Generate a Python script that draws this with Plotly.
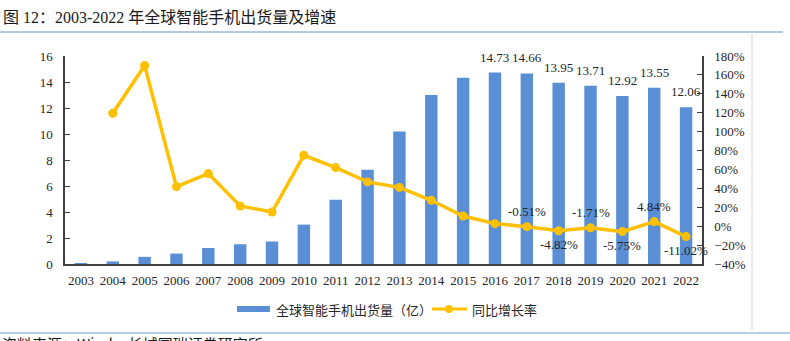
import plotly.graph_objects as go

# Global smartphone shipments (hundred million units) and year-over-year growth (%)
years = [str(y) for y in range(2003, 2023)]
shipments = [0.07, 0.2, 0.55, 0.8, 1.23, 1.52, 1.73, 3.03, 4.94, 7.25,
             10.2, 13.0, 14.33, 14.73, 14.66, 13.95, 13.71, 12.92, 13.55, 12.06]
growth = [None, 119.5, 170.0, 41.8, 55.6, 21.4, 15.0, 75.0, 62.0, 46.8,
          41.0, 27.4, 10.8, 2.7, -0.51, -4.82, -1.71, -5.75, 4.84, -11.02]

bar_label_years = years[13:]
growth_label_years = years[14:]

title_text = "图 12：2003-2022 年全球智能手机出货量及增速"
source_text = "资料来源：Wind，长城国瑞证券研究所"
bar_name = "全球智能手机出货量（亿）"
line_name = "同比增长率"

BAR_COLOR = "#5a8fd5"
LINE_COLOR = "#ffc000"
TEXT_COLOR = "#262626"
SERIF = "Liberation Serif, Times New Roman, serif"
CJK = "Noto Sans CJK SC, sans-serif"

W, H = 790, 341
L, R, T, B = 65, 88, 56, 77
plot_h = H - T - B
plot_w = W - L - R


def py(px):
    """pixel row -> paper y"""
    return (H - B - px) / plot_h


def px_(x):
    """pixel column -> paper x"""
    return (x - L) / plot_w


idx = list(range(len(years)))

fig = go.Figure()
fig.add_trace(go.Bar(x=idx, y=shipments, name=bar_name,
                     marker=dict(color=BAR_COLOR, line=dict(width=0)),
                     yaxis="y", showlegend=False))
fig.add_trace(go.Scatter(x=idx, y=growth, name=line_name, yaxis="y2",
                         mode="lines+markers",
                         line=dict(color=LINE_COLOR, width=3.5),
                         marker=dict(color=LINE_COLOR, size=9),
                         showlegend=False))

annotations = []
# value labels above the later bars
for yr in bar_label_years:
    i = years.index(yr)
    v = shipments[i]
    annotations.append(dict(x=i, y=v, xref="x", yref="y", text=f"{v:.2f}",
                            showarrow=False, yanchor="bottom", yshift=6,
                            font=dict(family=SERIF, size=13, color=TEXT_COLOR)))
# growth labels: above the line for rising/flat points, below for dips
below_years = {"2018", "2020", "2022"}
for yr in growth_label_years:
    i = years.index(yr)
    v = growth[i]
    above = yr not in below_years
    annotations.append(dict(x=i, y=v, xref="x", yref="y2", text=f"{v:.2f}%",
                            showarrow=False,
                            yanchor="bottom" if above else "top",
                            yshift=6 if above else -4,
                            font=dict(family=SERIF, size=13, color=TEXT_COLOR)))

# title and source note
annotations.append(dict(x=px_(1), y=py(17), xref="paper", yref="paper",
                        text=title_text, showarrow=False, xanchor="left",
                        yanchor="middle",
                        font=dict(family="Liberation Serif, Noto Sans CJK SC",
                                  size=16, color="#1a1a1a")))
annotations.append(dict(x=px_(0), y=py(331), xref="paper", yref="paper",
                        text=source_text, showarrow=False, xanchor="left",
                        yanchor="top",
                        font=dict(family=CJK, size=15, color="#1a1a1a")))

# legend entries drawn by hand: wide bar swatch and line-with-marker swatch
LEG_Y = 309
annotations.append(dict(x=px_(274), y=py(LEG_Y), xref="paper", yref="paper",
                        text=bar_name, showarrow=False, xanchor="left",
                        yanchor="middle",
                        font=dict(family=CJK, size=13, color=TEXT_COLOR)))
annotations.append(dict(x=px_(470), y=py(LEG_Y), xref="paper", yref="paper",
                        text=line_name, showarrow=False, xanchor="left",
                        yanchor="middle",
                        font=dict(family=CJK, size=13, color=TEXT_COLOR)))

shapes = [
    dict(type="line", xref="paper", yref="paper", x0=px_(0), x1=px_(783),
         y0=py(32), y1=py(32), line=dict(color="#6f95c6", width=1.2)),
    dict(type="line", xref="paper", yref="paper", x0=px_(752), x1=px_(752),
         y0=py(34), y1=py(330), line=dict(color="#d9d9d9", width=1)),
    dict(type="line", xref="paper", yref="paper", x0=px_(0), x1=px_(790),
         y0=py(333), y1=py(333), line=dict(color="#9dbbe0", width=1.5)),
    # legend swatches
    dict(type="rect", xref="paper", yref="paper", x0=px_(237), x1=px_(270),
         y0=py(LEG_Y - 3), y1=py(LEG_Y + 3), fillcolor=BAR_COLOR,
         line=dict(width=0)),
    dict(type="line", xref="paper", yref="paper", x0=px_(432), x1=px_(467),
         y0=py(LEG_Y), y1=py(LEG_Y), line=dict(color=LINE_COLOR, width=3)),
    dict(type="circle", xref="paper", yref="paper", x0=px_(445), x1=px_(453),
         y0=py(LEG_Y - 4), y1=py(LEG_Y + 4), fillcolor=LINE_COLOR,
         line=dict(width=0)),
]

fig.update_layout(
    width=W, height=H,
    margin=dict(l=L, r=R, t=T, b=B, pad=0, autoexpand=False),
    paper_bgcolor="white", plot_bgcolor="white",
    annotations=annotations, shapes=shapes,
    bargap=0.61,
    showlegend=False,
    xaxis=dict(range=[-0.5, len(years) - 0.5], tickmode="array", tickvals=idx,
               ticktext=years, showline=True, linecolor="#404040", linewidth=1.5,
               ticks="", showgrid=False, zeroline=False,
               tickfont=dict(family=SERIF, size=13, color=TEXT_COLOR),
               ticklabelstandoff=4),
    yaxis=dict(range=[0, 16], dtick=2, showline=True, linecolor="#404040",
               linewidth=1.5, ticks="inside", ticklen=5, tickcolor="#404040",
               showgrid=False, zeroline=False,
               tickfont=dict(family=SERIF, size=13, color=TEXT_COLOR),
               ticklabelstandoff=8),
    yaxis2=dict(range=[-40, 180], dtick=20, overlaying="y", side="right",
                showline=True, linecolor="#404040", linewidth=1.5,
                ticks="inside", ticklen=5, tickcolor="#404040",
                showgrid=False, zeroline=False, ticksuffix="%",
                tickfont=dict(family=SERIF, size=13, color=TEXT_COLOR),
                ticklabelstandoff=8),
)

fig.write_html("out.html")
